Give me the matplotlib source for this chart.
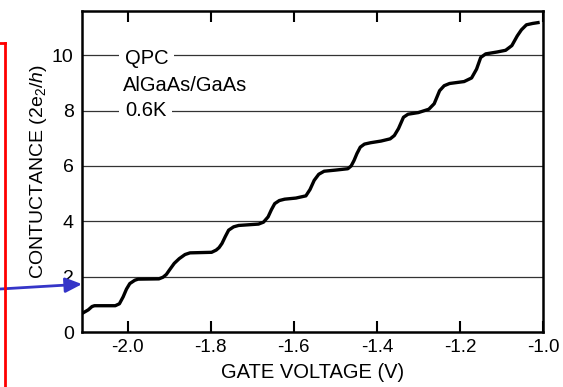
# Escalones de conductancia cuantizada en un QPC (AlGaAs/GaAs, 0.6K)
import matplotlib
matplotlib.use("Agg")
from matplotlib import pyplot as plt
from matplotlib.lines import Line2D

plt.rcParams["font.family"] = ["Liberation Sans", "DejaVu Sans"]
plt.rcParams["axes.unicode_minus"] = False
plt.rcParams["mathtext.fontset"] = "custom"
plt.rcParams["mathtext.rm"] = "Liberation Sans"
plt.rcParams["mathtext.it"] = "Liberation Sans:italic"

# voltaje de compuerta (V)
voltaje = [
    -2.110, -2.095, -2.086, -2.080, -2.030, -2.020, -2.011, -2.003, -1.995,
    -1.983, -1.975, -1.925, -1.915, -1.907, -1.900, -1.888, -1.876, -1.862,
    -1.850, -1.798, -1.787, -1.780, -1.773, -1.765, -1.757, -1.745, -1.733,
    -1.685, -1.673, -1.662, -1.654, -1.646, -1.635, -1.622, -1.595, -1.571,
    -1.561, -1.551, -1.540, -1.527, -1.500, -1.470, -1.462, -1.455, -1.448,
    -1.440, -1.430, -1.415, -1.390, -1.368, -1.358, -1.348, -1.336, -1.325,
    -1.300, -1.275, -1.262, -1.249, -1.238, -1.225, -1.190, -1.172, -1.160,
    -1.150, -1.138, -1.110, -1.090, -1.075, -1.062, -1.052, -1.040, -1.025,
    -1.012,
]

# conductancia (2e^2/h)
conductancia = [
    0.67, 0.80, 0.92, 0.95, 0.95, 1.02, 1.27, 1.55, 1.75,
    1.87, 1.91, 1.92, 1.98, 2.08, 2.23, 2.48, 2.65, 2.80,
    2.86, 2.88, 2.96, 3.05, 3.20, 3.45, 3.68, 3.80, 3.85,
    3.90, 3.97, 4.16, 4.42, 4.64, 4.75, 4.80, 4.84, 4.92,
    5.15, 5.48, 5.70, 5.81, 5.85, 5.90, 6.00, 6.20, 6.45,
    6.68, 6.79, 6.84, 6.90, 6.98, 7.10, 7.35, 7.76, 7.87,
    7.93, 8.05, 8.25, 8.72, 8.90, 8.98, 9.05, 9.18, 9.50,
    9.92, 10.05, 10.12, 10.18, 10.35, 10.70, 10.92, 11.10, 11.15,
    11.18,
]

ticks_x = [-2.0, -1.8, -1.6, -1.4, -1.2, -1.0]
etiquetas_x = ["-2.0", "-1.8", "-1.6", "-1.4", "-1.2", "-1.0"]
ticks_y = [0, 2, 4, 6, 8, 10]
lineas_y = [2, 4, 6, 8, 10]

# crear figura
fig = plt.figure(figsize=(5.63, 3.87), dpi=100)
ax = fig.add_axes([0.1457, 0.1421, 0.8188, 0.8295])

# lineas horizontales de referencia
for y in lineas_y:
    ax.axhline(y, color="#333333", linewidth=0.9, zorder=1)

# curva de conductancia
ax.plot(voltaje, conductancia, color="black", linewidth=2.4, zorder=3,
        solid_joinstyle="round")

# textos dentro del grafico
caja = dict(facecolor="white", edgecolor="none", pad=4)
ax.text(-2.0065, 9.9, "QPC", fontsize=14.5, va="center", bbox=caja, zorder=2)
ax.text(-2.011, 8.9, "AlGaAs/GaAs", fontsize=14.5, va="center", zorder=2)
ax.text(-2.0065, 8.0, "0.6K", fontsize=14.5, va="center", bbox=caja, zorder=2)

ax.set_xlim(-2.11, -1.0)
ax.set_ylim(0, 11.6)

ax.set_xticks(ticks_x)
ax.set_xticklabels(etiquetas_x)
ax.set_yticks(ticks_y)

ax.tick_params(axis="x", direction="in", length=8, width=1.5,
               top=True, labelsize=13.5, pad=5)
ax.tick_params(axis="y", length=0, labelsize=14, pad=6)

for lado in ax.spines.values():
    lado.set_linewidth(1.8)

ax.set_xlabel("GATE VOLTAGE (V)", fontsize=14.5, labelpad=5)
ax.set_ylabel("CONTUCTANCE (2e$_2$/$h$)", fontsize=14, labelpad=2)

# marco rojo a la izquierda
fig.add_artist(Line2D([5 / 563, 5 / 563], [0, 1 - 43 / 387],
                      color="red", linewidth=2))
fig.add_artist(Line2D([0, 5 / 563], [1 - 43 / 387, 1 - 43 / 387],
                      color="red", linewidth=2))

# flecha azul hacia el primer escalon
ax.annotate("", xy=(-2.11, 1.73), xycoords="data",
            xytext=(0, 1 - 289 / 387), textcoords="figure fraction",
            arrowprops=dict(arrowstyle="-|>,head_length=1.0,head_width=0.45",
                            color="#3535c8", linewidth=2,
                            shrinkA=0, shrinkB=0),
            annotation_clip=False)

fig.savefig("out.png", dpi=100)
